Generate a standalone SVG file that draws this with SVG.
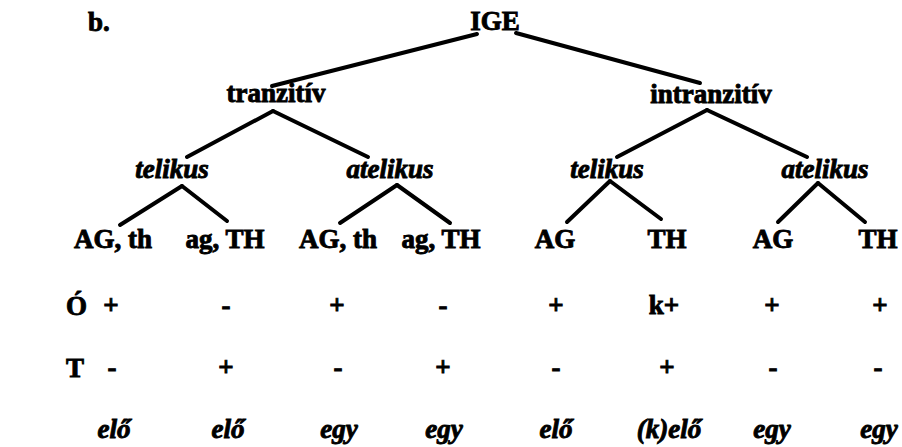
<svg xmlns="http://www.w3.org/2000/svg" width="902" height="447" viewBox="0 0 902 447">
<style>
text{font-family:"Liberation Serif","Times New Roman",serif;font-weight:bold;font-size:27px;fill:#000;stroke:#000;stroke-width:0.9;text-anchor:middle}
.it{font-style:italic}
.st{text-anchor:start}
.edge{stroke:#000;stroke-width:4;stroke-linecap:round;fill:none}
</style>
<rect width="902" height="447" fill="#fff"/>
<g id="connectors">
<line class="edge" x1="477" y1="34" x2="272" y2="86"/>
<line class="edge" x1="516" y1="33" x2="700" y2="83"/>
<line class="edge" x1="273" y1="111" x2="187" y2="157"/>
<line class="edge" x1="273" y1="111" x2="368" y2="157"/>
<line class="edge" x1="707" y1="110" x2="617" y2="157"/>
<line class="edge" x1="707" y1="110" x2="807" y2="157"/>
<line class="edge" x1="182" y1="186" x2="120" y2="225"/>
<line class="edge" x1="182" y1="186" x2="227" y2="221"/>
<line class="edge" x1="397" y1="185" x2="340" y2="223"/>
<line class="edge" x1="397" y1="185" x2="450" y2="223"/>
<line class="edge" x1="610" y1="181" x2="567" y2="222"/>
<line class="edge" x1="610" y1="181" x2="661" y2="219"/>
<line class="edge" x1="818" y1="183" x2="778" y2="222"/>
<line class="edge" x1="818" y1="183" x2="865" y2="222"/>
</g>
<g id="label-b"><text class="st" x="88" y="31">b.</text></g>
<g id="n-ige"><text x="495" y="30">IGE</text></g>
<g id="n-tranzitiv"><text x="276" y="102">tranzitív</text></g>
<g id="n-intranzitiv"><text x="711" y="103">intranzitív</text></g>
<g id="n-telikus1"><text class="it" x="172" y="178">telikus</text></g>
<g id="n-atelikus1"><text class="it" x="390" y="178">atelikus</text></g>
<g id="n-telikus2"><text class="it" x="607" y="178">telikus</text></g>
<g id="n-atelikus2"><text class="it" x="825" y="178">atelikus</text></g>
<g id="n-leaf1"><text x="113" y="248">AG, th</text></g>
<g id="n-leaf2"><text x="225" y="248">ag, TH</text></g>
<g id="n-leaf3"><text x="338" y="248">AG, th</text></g>
<g id="n-leaf4"><text x="441" y="248">ag, TH</text></g>
<g id="n-leaf5"><text x="555" y="248">AG</text></g>
<g id="n-leaf6"><text x="667" y="248">TH</text></g>
<g id="n-leaf7"><text x="773" y="248">AG</text></g>
<g id="n-leaf8"><text x="878" y="248">TH</text></g>
<g id="row-O">
<text class="st" x="66" y="315">Ó</text>
<text x="111" y="314">+</text>
<text x="226" y="314">-</text>
<text x="337" y="314">+</text>
<text x="443" y="314">-</text>
<text x="556" y="314">+</text>
<text x="664" y="314">k+</text>
<text x="772" y="314">+</text>
<text x="880" y="314">+</text>
</g>
<g id="row-T">
<text class="st" x="66" y="377">T</text>
<text x="112" y="376">-</text>
<text x="226" y="376">+</text>
<text x="338" y="376">-</text>
<text x="443" y="376">+</text>
<text x="556" y="376">-</text>
<text x="667" y="376">+</text>
<text x="773" y="376">-</text>
<text x="878" y="376">-</text>
</g>
<g id="row-words">
<text class="it" x="114" y="438">elő</text>
<text class="it" x="228" y="438">elő</text>
<text class="it" x="339" y="438">egy</text>
<text class="it" x="444" y="438">egy</text>
<text class="it" x="556" y="438">elő</text>
<text class="it" x="669" y="438">(k)elő</text>
<text class="it" x="772" y="438">egy</text>
<text class="it" x="879" y="438">egy</text>
</g>
</svg>
